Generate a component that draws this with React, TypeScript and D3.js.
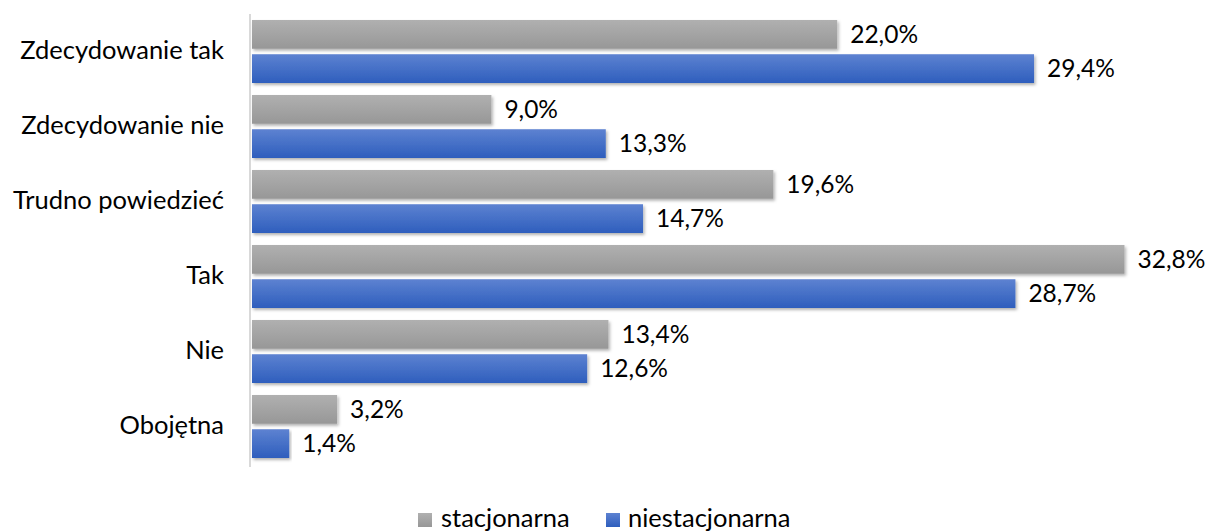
import React from 'react';
import * as d3 from 'd3';

const categories = ['Zdecydowanie tak', 'Zdecydowanie nie', 'Trudno powiedzieć', 'Tak', 'Nie', 'Obojętna'];
const stacjonarna = [22.0, 9.0, 19.6, 32.8, 13.4, 3.2];
const niestacjonarna = [29.4, 13.3, 14.7, 28.7, 12.6, 1.4];
const seriesNames = ['stacjonarna', 'niestacjonarna'];

const width = 1209;
const height = 531;
const font = 'Lato, "Open Sans", sans-serif';
const fontSize = 25.5;
const valueFontSize = 24.5;

const App: React.FC = () => {
  const x = d3.scaleLinear().domain([0, 35]).range([252, 1183]);
  const y = d3.scaleBand().domain(categories).range([14, 464]);
  const inner = d3.scaleBand().domain(seriesNames).range([6, 69]).paddingInner(0.16);
  const fmt = (v: number) => d3.format('.1f')(v).replace('.', ',') + '%';

  const series = [
    { name: 'stacjonarna', values: stacjonarna, fill: 'url(#gGray)' },
    { name: 'niestacjonarna', values: niestacjonarna, fill: 'url(#gBlue)' },
  ];

  return (
    <svg width={width} height={height} style={{ position: 'absolute', left: 0, top: 0, background: '#fff' }}>
      <defs>
        <linearGradient id="gGray" x1="0" y1="0" x2="0" y2="1">
          <stop offset="0%" stopColor="#b0b0b0" />
          <stop offset="100%" stopColor="#979797" />
        </linearGradient>
        <linearGradient id="gBlue" x1="0" y1="0" x2="0" y2="1">
          <stop offset="0%" stopColor="#5d82d1" />
          <stop offset="100%" stopColor="#2e5ebd" />
        </linearGradient>
        <filter id="shadow" x="-5%" y="-20%" width="110%" height="160%">
          <feDropShadow dx="1.5" dy="2" stdDeviation="1.5" floodColor="#000" floodOpacity="0.3" />
        </filter>
      </defs>
      {series.map(s =>
        categories.map((c, i) => (
          <rect
            key={s.name + c}
            x={x(0)}
            y={(y(c) ?? 0) + (inner(s.name) ?? 0)}
            width={x(s.values[i]) - x(0)}
            height={inner.bandwidth()}
            fill={s.fill}
            filter="url(#shadow)"
          />
        ))
      )}
      <line x1={250} x2={250} y1={14} y2={467} stroke="#d9d9d9" strokeWidth={2} />
      {series.map(s =>
        categories.map((c, i) => (
          <text
            key={'l' + s.name + c}
            x={x(s.values[i]) + 13}
            y={(y(c) ?? 0) + (inner(s.name) ?? 0) + inner.bandwidth() / 2}
            dy="0.35em"
            fontFamily={font}
            fontSize={valueFontSize}
            fill="#000"
          >
            {fmt(s.values[i])}
          </text>
        ))
      )}
      {categories.map(c => (
        <text
          key={'c' + c}
          x={224}
          y={(y(c) ?? 0) + y.bandwidth() / 2 - 1}
          dy="0.35em"
          textAnchor="end"
          fontFamily={font}
          fontSize={fontSize}
          fill="#000"
        >
          {c}
        </text>
      ))}
      <g fontFamily={font} fontSize={fontSize} fill="#000">
        <rect x={418} y={513} width={14} height={14} fill="url(#gGray)" />
        <text x={441} y={518} dy="0.35em">{seriesNames[0]}</text>
        <rect x={606} y={513} width={14} height={14} fill="url(#gBlue)" />
        <text x={628} y={518} dy="0.35em">{seriesNames[1]}</text>
      </g>
    </svg>
  );
};

export default App;
